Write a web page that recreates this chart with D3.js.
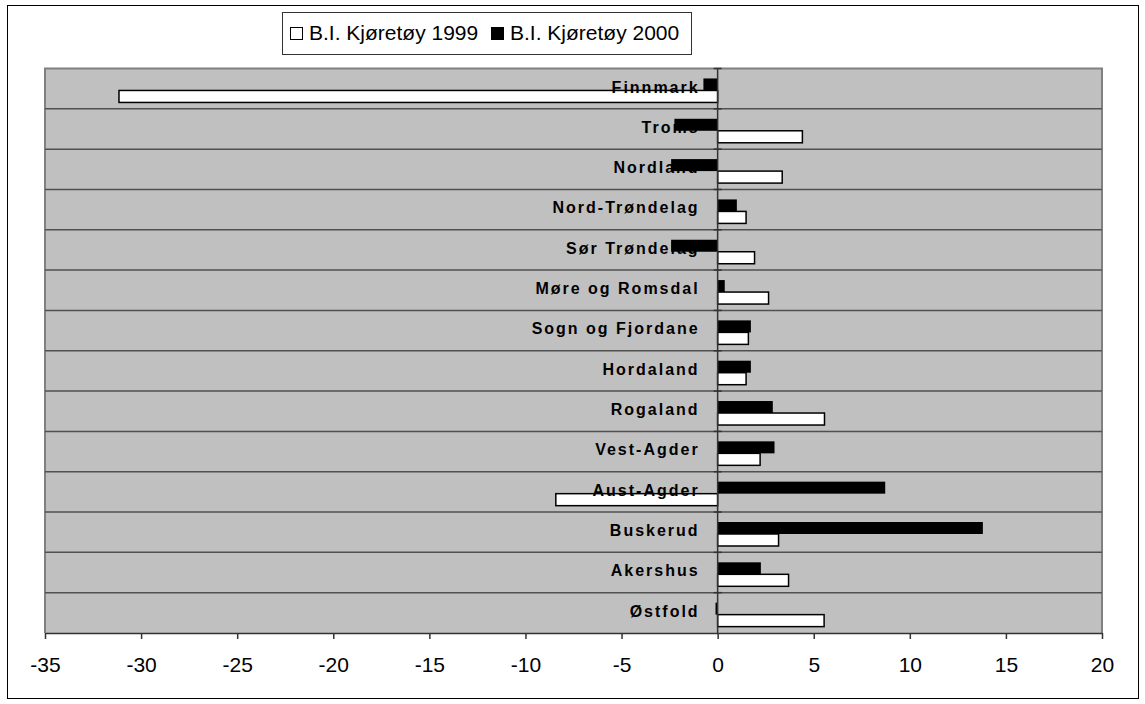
<!DOCTYPE html>
<html>
<head>
<meta charset="utf-8">
<script src="https://cdn.jsdelivr.net/npm/d3@7"></script>
<style>
  body { margin: 0; background: #fff; }
  svg { display: block; font-family: "Liberation Sans", Arial, sans-serif; }
</style>
</head>
<body>
<svg id="chart" width="1145" height="704"></svg>
<script>
// fylker, top to bottom as drawn
const fylker = ["Finnmark", "Troms", "Nordland", "Nord-Trøndelag", "Sør Trøndelag",
  "Møre og Romsdal", "Sogn og Fjordane", "Hordaland", "Rogaland", "Vest-Agder",
  "Aust-Agder", "Buskerud", "Akershus", "Østfold"];
const series = ["B.I. Kjøretøy 2000", "B.I. Kjøretøy 1999"];
const kjoretoy1999 = [-31.15, 4.41, 3.36, 1.48, 1.92, 2.65, 1.6, 1.48, 5.56, 2.21, -8.42, 3.17, 3.69, 5.54];
const kjoretoy2000 = [-0.74, -2.25, -2.42, 1.0, -2.42, 0.37, 1.73, 1.73, 2.87, 2.96, 8.72, 13.8, 2.25, -0.11];
const xTicks = [-35, -30, -25, -20, -15, -10, -5, 0, 5, 10, 15, 20];

const rows = fylker.map((f, i) => ({ fylke: f, v1999: kjoretoy1999[i], v2000: kjoretoy2000[i] }));

const svg = d3.select("#chart");
const plot = { left: 45, right: 1102, top: 68.5, bottom: 633 };

// outer frame
svg.append("rect")
  .attr("x", 7.5).attr("y", 5.5)
  .attr("width", 1131).attr("height", 693)
  .attr("fill", "#fff").attr("stroke", "#000").attr("stroke-width", 1);

var x = d3.scaleLinear().domain([-35, 20]).range([plot.left, plot.right]);
var y = d3.scaleBand().domain(fylker).range([plot.top, plot.bottom]).paddingInner(0);
var ySub = d3.scaleBand().domain(series).range([0, y.bandwidth()])
  .paddingInner(0).paddingOuter(0.68).align(0.61);

// plot area background
svg.append("rect")
  .attr("x", plot.left).attr("y", plot.top)
  .attr("width", plot.right - plot.left).attr("height", plot.bottom - plot.top)
  .attr("fill", "#c0c0c0");

// top / left / right border of plot area
svg.append("path")
  .attr("d", `M${plot.left},${plot.bottom}V${plot.top}H${plot.right}V${plot.bottom}`)
  .attr("fill", "none").attr("stroke", "#808080").attr("stroke-width", 2);

// row gridlines
svg.append("g").selectAll("line")
  .data(fylker.slice(1))
  .enter().append("line")
    .attr("x1", plot.left).attr("x2", plot.right)
    .attr("y1", d => y(d)).attr("y2", d => y(d))
    .attr("stroke", "#505050").attr("stroke-width", 1.5);

// bars
var g = svg.append("g");
g.selectAll("rect.b2000")
  .data(rows).enter().append("rect")
    .attr("class", "b2000")
    .attr("x", d => x(Math.min(0, d.v2000)))
    .attr("width", d => Math.abs(x(d.v2000) - x(0)))
    .attr("y", d => y(d.fylke) + ySub(series[0]))
    .attr("height", ySub.bandwidth())
    .attr("fill", "#000");
g.selectAll("rect.b1999")
  .data(rows).enter().append("rect")
    .attr("class", "b1999")
    .attr("x", d => x(Math.min(0, d.v1999)))
    .attr("width", d => Math.abs(x(d.v1999) - x(0)))
    .attr("y", d => y(d.fylke) + ySub(series[1]))
    .attr("height", ySub.bandwidth())
    .attr("fill", "#fff").attr("stroke", "#000").attr("stroke-width", 1.5);

// category labels (drawn over the bars, as in the original)
const spacing = 2;
svg.append("g").selectAll("text")
  .data(fylker).enter().append("text")
    .attr("x", x(0) - 20 + spacing)
    .attr("y", d => y(d) + 24)
    .attr("text-anchor", "end")
    .attr("font-weight", "bold")
    .attr("font-size", 16)
    .attr("letter-spacing", spacing)
    .attr("fill", "#000")
    .text(d => d);

// zero axis with category ticks
svg.append("line")
  .attr("x1", x(0)).attr("x2", x(0))
  .attr("y1", plot.top).attr("y2", plot.bottom)
  .attr("stroke", "#333").attr("stroke-width", 1.5);
svg.append("g").selectAll("line")
  .data(fylker).enter().append("line")
    .attr("x1", x(0) - 4).attr("x2", x(0) + 4)
    .attr("y1", d => y(d)).attr("y2", d => y(d))
    .attr("stroke", "#333").attr("stroke-width", 1.5);

// value axis
var xAxis = svg.append("g")
  .attr("transform", `translate(0,${plot.bottom})`)
  .call(d3.axisBottom(x).tickValues(xTicks).tickFormat(d => String(d))
    .tickSizeInner(6).tickSizeOuter(0).tickPadding(18));
xAxis.select(".domain").attr("stroke", "#333").attr("stroke-width", 1.5);
xAxis.selectAll(".tick line").attr("stroke", "#333").attr("stroke-width", 1.5);
xAxis.selectAll(".tick text")
  .attr("font-family", "Liberation Sans, Arial, sans-serif")
  .attr("font-size", 21).attr("fill", "#000");

// legend
var legend = svg.append("g");
legend.append("rect")
  .attr("x", 282.5).attr("y", 12.5).attr("width", 409).attr("height", 42)
  .attr("fill", "#fff").attr("stroke", "#333").attr("stroke-width", 1);
const legendItems = [
  { label: "B.I. Kjøretøy 1999", fill: "#fff", x: 290 },
  { label: "B.I. Kjøretøy 2000", fill: "#000", x: 491 }
];
legendItems.forEach(item => {
  legend.append("rect")
    .attr("x", item.x + 0.5).attr("y", 27.5).attr("width", 12).attr("height", 12)
    .attr("fill", item.fill).attr("stroke", "#000").attr("stroke-width", 1);
  legend.append("text")
    .attr("x", item.x + 19).attr("y", 40)
    .attr("font-size", 21).attr("fill", "#000")
    .text(item.label);
});
</script>
</body>
</html>
